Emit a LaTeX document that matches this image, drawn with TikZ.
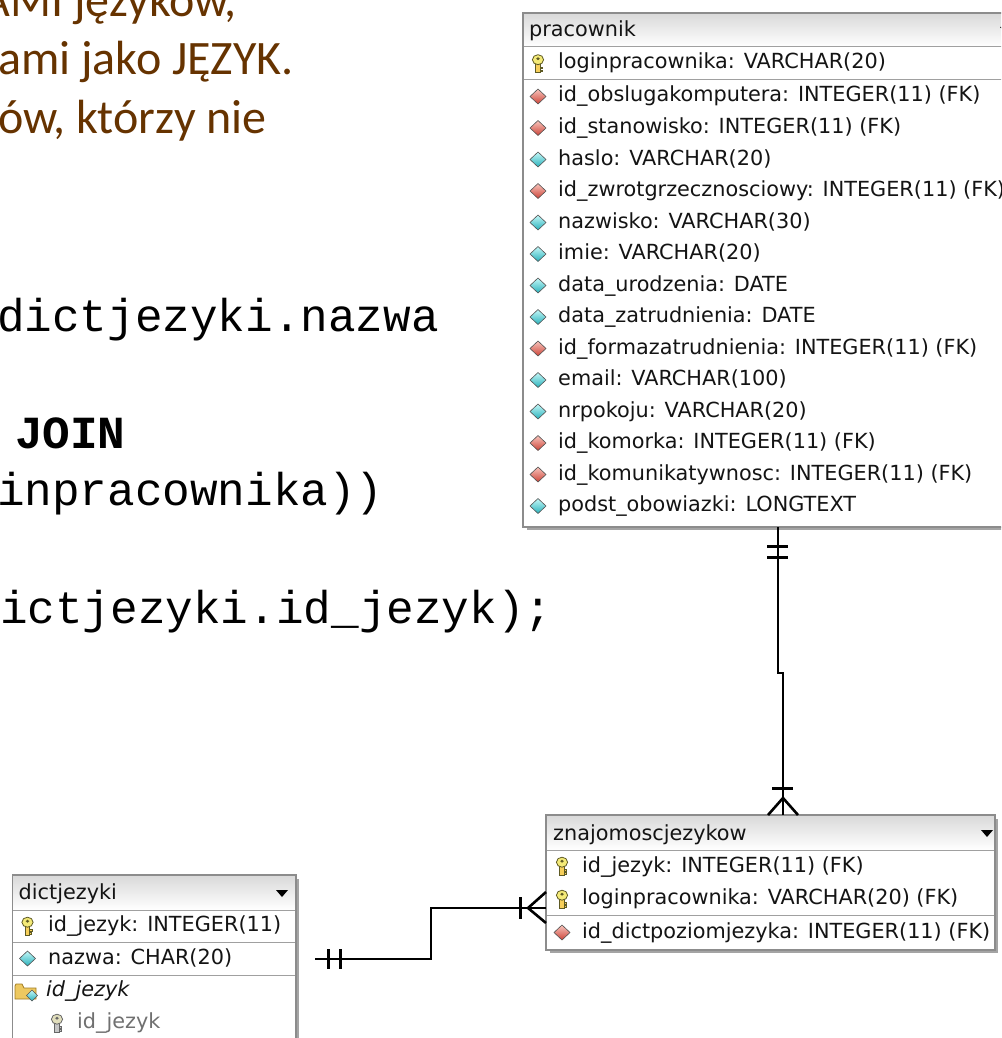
\documentclass[tikz,border=0pt]{standalone}
\usepackage{fontspec}
\newfontfamily\erfont{DejaVu Sans}
\newfontfamily\codefont{Liberation Mono}
\newfontfamily\slidefont{Carlito}
\definecolor{slidebrown}{HTML}{663300}
\definecolor{tblborder}{HTML}{8C8C8C}
\definecolor{tblshadow}{HTML}{A4A4A4}
\definecolor{rowsep}{HTML}{A0A0A0}
\definecolor{keyfill}{HTML}{F4EA78}
\definecolor{keyline}{HTML}{5E5A24}
\definecolor{fkfillA}{HTML}{F8C4BC}
\definecolor{fkfillB}{HTML}{CC4438}
\definecolor{atfillA}{HTML}{C4F8F8}
\definecolor{atfillB}{HTML}{28B0BA}
\definecolor{folderA}{HTML}{EDC860}
\definecolor{folderB}{HTML}{A07A20}
\definecolor{gridtext}{HTML}{141414}
\definecolor{graytext}{HTML}{707070}
\tikzset{
  slidetxt/.style={anchor=base west, inner sep=0pt, text=slidebrown, font=\slidefont\fontsize{48}{57}\selectfont},
  codetxt/.style={anchor=base west, inner sep=0pt, font=\codefont\fontsize{46}{55}\selectfont},
  codebold/.style={anchor=base west, inner sep=0pt, font=\codefont\fontsize{46}{55}\selectfont\bfseries},
  ertxt/.style={anchor=base west, inner sep=0pt, font=\erfont\fontsize{20.8}{24}\selectfont, text=gridtext},
  tblframe/.style={draw=tblborder, line width=1.2pt},
  tblshade/.style={draw=tblshadow, line width=2.6pt},
  rowline/.style={draw=rowsep, line width=1pt},
  hdrfill/.style={top color=gray!30, bottom color=white},
  conn/.style={draw=black, line width=1.6pt},
  barmark/.style={draw=black, line width=3pt},
  crowmark/.style={draw=black, line width=2.6pt},
  keyicon/.pic={
    \path[fill=keyfill!75!orange, draw=keyline, line width=0.8pt] (-2.3,-1) rectangle (2.3,9);
    \path[fill=keyfill!75!orange, draw=keyline, line width=0.8pt] (2.3,3.5) rectangle (4.5,5.2);
    \path[fill=keyfill!75!orange, draw=keyline, line width=0.8pt] (2.3,6.5) rectangle (4.1,8.2);
    \path[fill=keyfill, draw=keyline, line width=0.8pt] (0,-3.8) ellipse (5.6 and 5);
    \path[fill=keyline] (0,-4.8) ellipse (1.8 and 1.5);
  },
  keygray/.pic={
    \path[fill=gray!45, draw=gray!80!black, line width=0.8pt] (-2.3,-1) rectangle (2.3,9);
    \path[fill=gray!45, draw=gray!80!black, line width=0.8pt] (2.3,3.5) rectangle (4.5,5.2);
    \path[fill=gray!45, draw=gray!80!black, line width=0.8pt] (2.3,6.5) rectangle (4.1,8.2);
    \path[fill=keyfill!60!gray!50, draw=gray!80!black, line width=0.8pt] (0,-3.8) ellipse (5.6 and 5);
    \path[fill=gray!80!black] (0,-4.8) ellipse (1.8 and 1.5);
  },
  fkicon/.pic={
    \path[top color=fkfillA, bottom color=fkfillB, draw=gray!65!black, line width=0.6pt]
      (0,-7.5) -- (8,0) -- (0,7.5) -- (-8,0) -- cycle;
  },
  aticon/.pic={
    \path[top color=atfillA, bottom color=atfillB, draw=gray!65!black, line width=0.6pt]
      (0,-7.5) -- (8,0) -- (0,7.5) -- (-8,0) -- cycle;
  },
  foldericon/.pic={
    \path[fill=folderA, draw=folderB, line width=0.7pt]
      (-12,-5) -- (-12,8) -- (9,8) -- (9,-3) -- (-3,-3) -- (-5,-7) -- (-11,-7) -- cycle;
    \path[top color=atfillA, bottom color=atfillB, draw=gray!65!black, line width=0.6pt]
      (5,-1) -- (10.5,4.5) -- (5,10) -- (-0.5,4.5) -- cycle;
  },
  dropicon/.pic={\fill[black] (-6,-3) -- (6,-3) -- (0,4) -- cycle;}
}
\newcommand\erkeyico[1]{\pic at (#1) {keyicon};}
\newcommand\erfkico[1]{\pic at (#1) {fkicon};}
\newcommand\eratico[1]{\pic at (#1) {aticon};}
\begin{document}
\begin{tikzpicture}[x=1pt,y=-1pt]
\useasboundingbox (0,0) rectangle (1001,1038);
\clip (0,0) rectangle (1001,1038);
\fill[white] (0,0) rectangle (1001,1038);

% ---------- slide text ----------
\node[slidetxt, anchor=base east] (s1) at (237,17) {AMI języków,};
\node[slidetxt] (s2) at (-2,75) {ami jako JĘZYK.};
\node[slidetxt] (s3) at (-2,133) {ów, którzy nie};

% ---------- code ----------
\node[codetxt] (c1) at (-3,331) {dictjezyki.nazwa};
\node[codebold] (c2) at (15,448) {JOIN};
\node[codetxt] (c3) at (-3,505) {inpracownika))};
\node[codetxt] (c4) at (0,623) {ictjezyki.id\_jezyk);};

% ---------- table pracownik ----------
\draw[tblshade] (527,528.5) -- (1015.5,528.5) -- (1015.5,17);
\path[fill=white] (523,13) rectangle (1014,527);
\path[hdrfill] (523,13) rectangle (1014,47);
\draw[rowline] (523,47) -- (1014,47);
\draw[rowline] (523,80) -- (1014,80);
\draw[tblframe] (523,13) rectangle (1014,527);
\node[ertxt] (prH) at (529,37) {pracownik};
\pic at (1006,30) {dropicon};
\erkeyico{538,63.5}
\node[ertxt] (prPK) at (558,69) {loginpracownika: VARCHAR(20)};
\foreach \k/\ic/\txt in {
  0/\erfkico/{id\_obslugakomputera: INTEGER(11) (FK)},
  1/\erfkico/{id\_stanowisko: INTEGER(11) (FK)},
  2/\eratico/{haslo: VARCHAR(20)},
  3/\erfkico/{id\_zwrotgrzecznosciowy: INTEGER(11) (FK)},
  4/\eratico/{nazwisko: VARCHAR(30)},
  5/\eratico/{imie: VARCHAR(20)},
  6/\eratico/{data\_urodzenia: DATE},
  7/\eratico/{data\_zatrudnienia: DATE},
  8/\erfkico/{id\_formazatrudnienia: INTEGER(11) (FK)},
  9/\eratico/{email: VARCHAR(100)},
  10/\eratico/{nrpokoju: VARCHAR(20)},
  11/\erfkico/{id\_komorka: INTEGER(11) (FK)},
  12/\erfkico/{id\_komunikatywnosc: INTEGER(11) (FK)},
  13/\eratico/{podst\_obowiazki: LONGTEXT}}{
  \pgfmathsetmacro\yc{96.5+31.5*\k}
  \pgfmathsetmacro\yb{\yc+5.5}
  \ic{538,\yc}
  \node[ertxt] (pr\k) at (558,\yb) {\txt};
}

% ---------- table znajomoscjezykow ----------
\draw[tblshade] (550,951.5) -- (996.5,951.5) -- (996.5,819);
\path[fill=white] (546,815) rectangle (995,950);
\path[hdrfill] (546,815) rectangle (995,850);
\draw[rowline] (546,850) -- (995,850);
\draw[rowline] (546,915) -- (995,915);
\draw[tblframe] (546,815) rectangle (995,950);
\node[ertxt] (znH) at (553,840) {znajomoscjezykow};
\pic at (987,833) {dropicon};
\erkeyico{562,866}
\node[ertxt] (zn1) at (582,872) {id\_jezyk: INTEGER(11) (FK)};
\erkeyico{562,899}
\node[ertxt] (zn2) at (582,904.5) {loginpracownika: VARCHAR(20) (FK)};
\erfkico{562,932.5}
\node[ertxt] (zn3) at (582,938) {id\_dictpoziomjezyka: INTEGER(11) (FK)};

% ---------- table dictjezyki ----------
\draw[tblshade] (297.5,879) -- (297.5,1045);
\path[fill=white] (12.5,875) rectangle (296,1045);
\path[hdrfill] (12.5,875) rectangle (296,910);
\draw[rowline] (12.5,910) -- (296,910);
\draw[rowline] (12.5,942) -- (296,942);
\draw[rowline] (12.5,975) -- (296,975);
\draw[tblframe] (12.5,1045) -- (12.5,875) -- (296,875) -- (296,1045);
\node[ertxt] (djH) at (18.5,899) {dictjezyki};
\pic at (282,893) {dropicon};
\erkeyico{27.5,926}
\node[ertxt] (dj1) at (48,931.5) {id\_jezyk: INTEGER(11)};
\eratico{27.5,958.5}
\node[ertxt] (dj2) at (48,964) {nazwa: CHAR(20)};
\pic at (27,991) {foldericon};
\node[ertxt, font=\erfont\itshape\fontsize{20.8}{24}\selectfont] (dj3) at (46,996.5) {id\_jezyk};
\pic at (57,1023) {keygray};
\node[ertxt, text=graytext] (dj4) at (77,1028.5) {id\_jezyk};

% ---------- connector pracownik -> znajomoscjezykow ----------
\coordinate (prB) at (778,527);
\coordinate (j1) at (778,673);
\coordinate (j2) at (783,673);
\coordinate (znT) at (783,815);
\draw[conn] (prB) -- (j1) -- (j2) -- (znT);
\draw[barmark] ([shift={(-11,19)}]prB) -- ++(21,0);
\draw[barmark] ([shift={(-11,30)}]prB) -- ++(21,0);
\draw[barmark] ([shift={(-11,-27)}]znT) -- ++(21,0);
\draw[crowmark] ([shift={(-15,0)}]znT) -- ([shift={(0,-17)}]znT) -- ([shift={(15,0)}]znT);

% ---------- connector dictjezyki -> znajomoscjezykow ----------
\coordinate (djE) at (315,959);
\coordinate (k1) at (431,959);
\coordinate (k2) at (431,908);
\coordinate (znL) at (546,908);
\draw[conn] (djE) -- (k1) -- (k2) -- (znL);
\draw[barmark] ([shift={(13,-10)}]djE) -- ++(0,20);
\draw[barmark] ([shift={(25,-10)}]djE) -- ++(0,20);
\draw[barmark] ([shift={(-26,-11)}]znL) -- ++(0,22);
\draw[crowmark] ([shift={(0,-16)}]znL) -- ([shift={(-18,0)}]znL) -- ([shift={(0,15)}]znL);
\end{tikzpicture}
\end{document}
